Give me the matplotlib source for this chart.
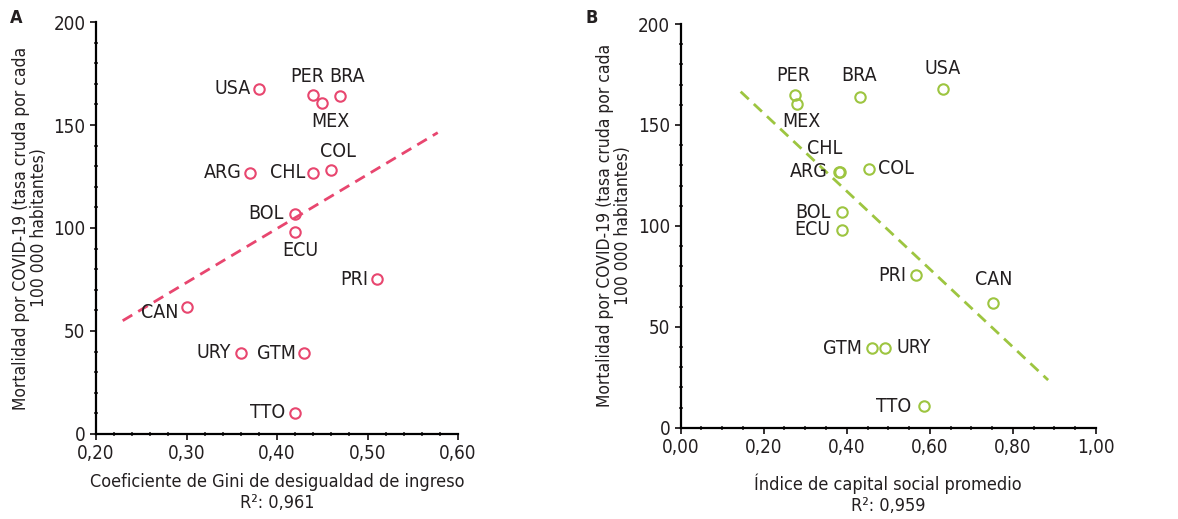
import numpy as np
import matplotlib
matplotlib.use('Agg')
import matplotlib.pyplot as plt
from matplotlib.ticker import MultipleLocator, FuncFormatter

plt.rcParams['font.family'] = ['DejaVu Sans']
plt.rcParams['font.stretch'] = 'condensed'
plt.rcParams['text.color'] = '#231f20'
plt.rcParams['axes.labelcolor'] = '#231f20'
plt.rcParams['xtick.color'] = '#231f20'
plt.rcParams['ytick.color'] = '#231f20'

# data
countries = ['USA', 'PER', 'MEX', 'BRA', 'ARG', 'CHL', 'COL', 'BOL', 'ECU',
             'PRI', 'CAN', 'URY', 'GTM', 'TTO']
mortality_a = [167.6, 164.6, 160.5, 164.1, 126.8, 126.8, 128.2, 106.9, 97.9,
               75.2, 61.7, 39.5, 39.2, 10.4]
gini = [0.38, 0.44, 0.45, 0.47, 0.37, 0.44, 0.46, 0.42, 0.42,
        0.51, 0.30, 0.36, 0.43, 0.42]
mortality_b = [167.8, 164.8, 160.5, 164.0, 126.8, 126.8, 128.3, 106.7, 98.1,
               75.6, 61.8, 39.6, 39.3, 10.6]
capital = [0.632, 0.275, 0.280, 0.433, 0.382, 0.383, 0.453, 0.388, 0.388,
           0.566, 0.753, 0.492, 0.462, 0.585]
trend_a_x = [0.2295, 0.5776]
trend_a_y = [55.0, 146.3]
trend_b_x = [0.1445, 0.885]
trend_b_y = [166.5, 23.6]

pink = '#e8466f'
green = '#9dc540'

# label offsets in points (dx, dy, ha)
off_a = {'USA': (-6, 0, 'right'), 'PER': (-4, 13, 'center'), 'MEX': (6, -13, 'center'),
         'BRA': (5, 14, 'center'), 'ARG': (-6, 0, 'right'), 'CHL': (-6, 0, 'right'),
         'COL': (5, 13, 'center'), 'BOL': (-8, 0, 'right'), 'ECU': (4, -13, 'center'),
         'PRI': (-6, 0, 'right'), 'CAN': (-6, -4, 'right'), 'URY': (-7, 0, 'right'),
         'GTM': (-6, 0, 'right'), 'TTO': (-7, 0, 'right')}
off_b = {'USA': (0, 15, 'center'), 'PER': (-1, 14, 'center'), 'MEX': (3, -13, 'center'),
         'BRA': (-1, 15, 'center'), 'ARG': (-8, 0, 'right'), 'CHL': (-11, 17, 'center'),
         'COL': (7, 0, 'left'), 'BOL': (-8, 0, 'right'), 'ECU': (-8, 0, 'right'),
         'PRI': (-7, 0, 'right'), 'CAN': (0, 17, 'center'), 'URY': (8, 0, 'left'),
         'GTM': (-8, 0, 'right'), 'TTO': (-9, 0, 'right')}

fig = plt.figure(figsize=(11.78, 5.19), dpi=100)
ax1 = fig.add_axes([0.0815, 0.1638, 0.3073, 0.7938])
ax2 = fig.add_axes([0.5778, 0.1759, 0.3525, 0.7778])

comma = FuncFormatter(lambda v, p: ('%.2f' % v).replace('.', ','))
ylabel = 'Mortalidad por COVID-19 (tasa cruda por cada\n100 000 habitantes)'


def style(ax, xmin, xmax, xmajor, xminor):
    ax.set_xlim(xmin, xmax)
    ax.set_ylim(0, 200)
    ax.xaxis.set_major_locator(MultipleLocator(xmajor))
    ax.xaxis.set_minor_locator(MultipleLocator(xminor))
    ax.yaxis.set_major_locator(MultipleLocator(50))
    ax.yaxis.set_minor_locator(MultipleLocator(10))
    ax.xaxis.set_major_formatter(comma)
    for s in ['top', 'right']:
        ax.spines[s].set_visible(False)
    for s in ['left', 'bottom']:
        ax.spines[s].set_linewidth(1.6)
    ax.tick_params(which='major', direction='out', length=4, width=1.3, labelsize=13.5)
    ax.tick_params(which='minor', direction='inout', length=3, width=1.1)
    ax.set_ylabel(ylabel, fontsize=12.5, labelpad=4, linespacing=1.0)


def draw(ax, xs, ys, offs, color):
    ax.plot(xs, ys, 'o', mfc='none', mec=color, mew=1.5, ms=7.5, clip_on=False)
    for c, x, y in zip(countries, xs, ys):
        dx, dy, ha = offs[c]
        ax.annotate(c, (x, y), xytext=(dx, dy), textcoords='offset points',
                    ha=ha, va='center', fontsize=14)


style(ax1, 0.2, 0.6, 0.1, 0.02)
ax1.plot(trend_a_x, trend_a_y, '--', color=pink, lw=2, dashes=(4, 2.5))
draw(ax1, gini, mortality_a, off_a, pink)
ax1.set_xlabel('Coeficiente de Gini de desigualdad de ingreso\nR²: 0,961',
               fontsize=13, labelpad=7, linespacing=1.2)

style(ax2, 0.0, 1.0, 0.2, 0.05)
ax2.plot(trend_b_x, trend_b_y, '--', color=green, lw=2, dashes=(4, 2.5))
draw(ax2, capital, mortality_b, off_b, green)
ax2.set_xlabel('Índice de capital social promedio\nR²: 0,959',
               fontsize=13, labelpad=12, linespacing=1.2)

fig.text(0.008, 0.955, 'A', fontsize=13, fontweight='bold')
fig.text(0.497, 0.955, 'B', fontsize=13, fontweight='bold')

fig.savefig('out.png', dpi=100)
